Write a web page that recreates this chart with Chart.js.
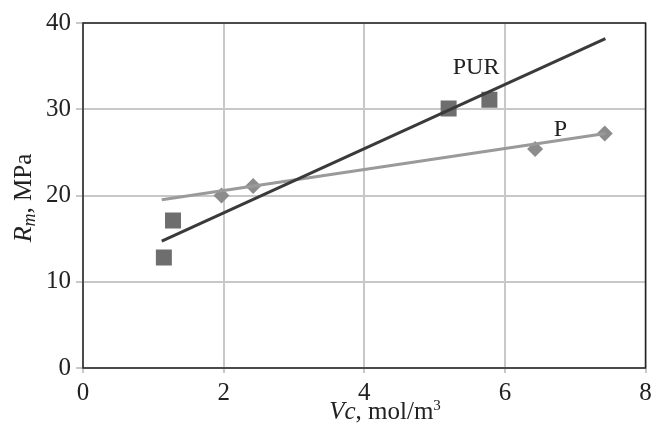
<!DOCTYPE html>
<html>
<head>
<meta charset="utf-8">
<script src="https://cdn.jsdelivr.net/npm/chart.js@4/dist/chart.umd.min.js"></script>
<style>
  html, body { margin: 0; padding: 0; background: #fff; }
  #wrap { width: 657px; height: 435px; }
</style>
</head>
<body>
<div id="wrap"><canvas id="chart"></canvas></div>
<script>
// measured points
const purX = [1.15, 1.28, 5.2, 5.78];
const purY = [12.8, 17.1, 30.1, 31.1];
const pX = [1.97, 2.42, 6.43, 7.42];
const pY = [20.0, 21.1, 25.4, 27.2];

// trend lines (end points)
const purTrendX = [1.12, 7.43];
const purTrendY = [14.7, 38.2];
const pTrendX = [1.12, 7.43];
const pTrendY = [19.5, 27.2];

const xTicks = [0, 2, 4, 6, 8];
const yTicks = [0, 10, 20, 30, 40];

const serif = '"Liberation Serif", "DejaVu Serif", serif';

const toPoints = (xs, ys) => xs.map((x, i) => ({ x: x, y: ys[i] }));

const labelPlugin = {
    id: 'labels',
    beforeDatasetsDraw(chart) {
        const ctx = chart.ctx;
        const a = chart.chartArea;
        ctx.save();
        ctx.strokeStyle = '#222';
        ctx.lineWidth = 1.5;
        ctx.strokeRect(a.left, a.top, a.right - a.left, a.bottom - a.top);
        ctx.restore();
    },
    afterDraw(chart) {
        const ctx = chart.ctx;
        const xs = chart.scales.x;
        const ys = chart.scales.y;
        ctx.save();
        ctx.fillStyle = '#222';
        ctx.textBaseline = 'middle';
        ctx.textAlign = 'center';
        ctx.font = '24px ' + serif;
        ctx.fillText('PUR', xs.getPixelForValue(5.59), ys.getPixelForValue(34.8));
        ctx.fillText('P', xs.getPixelForValue(6.79), ys.getPixelForValue(27.6));

        // x axis title: Vc, mol/m³
        const y0 = 419;
        ctx.textAlign = 'left';
        ctx.textBaseline = 'alphabetic';
        const p1 = 'Vc';
        ctx.font = 'italic 25px ' + serif;
        const w1 = ctx.measureText(p1).width;
        ctx.font = '25px ' + serif;
        const p2 = ', mol/m';
        const w2 = ctx.measureText(p2).width;
        ctx.font = '15px ' + serif;
        const w3 = ctx.measureText('3').width;
        let sx = 385 - (w1 + w2 + w3) / 2;
        ctx.font = 'italic 25px ' + serif;
        ctx.fillText(p1, sx, y0);
        ctx.font = '25px ' + serif;
        ctx.fillText(p2, sx + w1, y0);
        ctx.font = '15px ' + serif;
        ctx.fillText('3', sx + w1 + w2, y0 - 9);

        // y axis title: R_m, MPa (rotated)
        ctx.translate(31, 198);
        ctx.rotate(-Math.PI / 2);
        ctx.font = 'italic 26px ' + serif;
        const r = 'R';
        const wr = ctx.measureText(r).width;
        ctx.font = 'italic 18px ' + serif;
        const sub = 'm';
        const ws = ctx.measureText(sub).width;
        ctx.font = '25px ' + serif;
        const rest = ', MPa';
        const wrest = ctx.measureText(rest).width;
        sx = -(wr + ws + wrest) / 2;
        ctx.font = 'italic 26px ' + serif;
        ctx.fillText(r, sx, 0);
        ctx.font = 'italic 18px ' + serif;
        ctx.fillText(sub, sx + wr, 4);
        ctx.font = '25px ' + serif;
        ctx.fillText(rest, sx + wr + ws, 0);
        ctx.restore();
    }
};

new Chart(document.getElementById('chart'), {
    type: 'scatter',
    data: {
        datasets: [
            {
                label: 'PUR trend',
                data: toPoints(purTrendX, purTrendY),
                showLine: true,
                borderColor: '#3a3a3a',
                borderWidth: 3,
                pointRadius: 0
            },
            {
                label: 'P trend',
                data: toPoints(pTrendX, pTrendY),
                showLine: true,
                borderColor: '#9a9a9a',
                borderWidth: 3,
                pointRadius: 0
            },
            {
                label: 'PUR',
                data: toPoints(purX, purY),
                pointStyle: 'rect',
                pointRadius: 11.3,
                backgroundColor: '#6e6e6e',
                borderColor: '#6e6e6e',
                borderWidth: 0
            },
            {
                label: 'P',
                data: toPoints(pX, pY),
                pointStyle: 'rectRot',
                pointRadius: 8,
                backgroundColor: '#8c8c8c',
                borderColor: '#8c8c8c',
                borderWidth: 0
            }
        ]
    },
    options: {
        responsive: true,
        maintainAspectRatio: false,
        animation: false,
        layout: { padding: { left: 0, top: 23, right: 11.5, bottom: 0 } },
        plugins: {
            legend: { display: false },
            tooltip: { enabled: false }
        },
        scales: {
            x: {
                type: 'linear',
                min: 0,
                max: 8,
                afterBuildTicks: axis => { axis.ticks = xTicks.map(v => ({ value: v })); },
                afterFit: axis => { axis.height = 67; },
                border: { display: false },
                grid: { color: '#c8c8c8', lineWidth: 2, tickLength: 5 },
                ticks: { color: '#222', font: { family: serif, size: 25 }, padding: 5 }
            },
            y: {
                type: 'linear',
                min: 0,
                max: 40,
                afterBuildTicks: axis => { axis.ticks = yTicks.map(v => ({ value: v })); },
                afterFit: axis => { axis.width = 83; },
                border: { display: false },
                grid: { color: '#c8c8c8', lineWidth: 2, tickLength: 7 },
                ticks: { color: '#222', font: { family: serif, size: 25 }, padding: 5 }
            }
        }
    },
    plugins: [labelPlugin]
});
</script>
</body>
</html>
